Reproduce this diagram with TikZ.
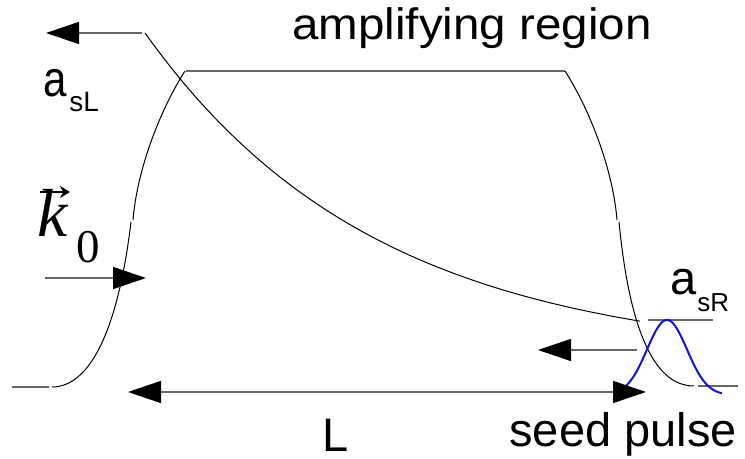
\documentclass[tikz,border=0pt]{standalone}
\usepackage{fontspec}
\setmainfont{Liberation Sans}
\newfontfamily\serifface{Liberation Serif}
\newfontfamily\titleface{Liberation Sans}[FakeStretch=1.08]
\usetikzlibrary{arrows.meta}
\definecolor{linegray}{HTML}{666666}
\definecolor{pulseblue}{HTML}{0A14E6}
\newcommand{\labeltext}{\fontsize{23.5}{26}\selectfont}
\newcommand{\subtext}[1]{\fontsize{#1}{#1}\selectfont}

\begin{document}
\begin{tikzpicture}[
  x=0.5pt, y=-0.5pt,
  lbl/.style={inner sep=0pt, anchor=base west},
  curve/.style={line width=0.5pt, draw=black},
  level/.style={line width=0.75pt, draw=linegray},
  beam/.style={line width=0.75pt, draw=linegray,
    -{Triangle[length=16.5pt, width=11pt, color=black]}},
  span/.style={beam,
    {Triangle[length=16.5pt, width=11pt, color=black]}-{Triangle[length=16.5pt, width=11pt, color=black]}},
]
\useasboundingbox (0,0) rectangle (745,459);

% ---- gain profile of the amplifying region ------------------------------
\draw[level] (12,387) -- (49,387);
\draw[curve] (52,387) .. controls (90,387) and (118,330) .. (131,222);
\draw[curve] (133,220) .. controls (137,170) and (160,110) .. (185,71);
\draw[level] (186,71) -- (565,71);
\draw[curve] (565,71) .. controls (590,110) and (613,170) .. (617,220);
\draw[curve] (619,222) .. controls (630,335) and (656,386) .. (694,386);
\draw[level] (698,386) -- (738,386);

% ---- amplitude of the backward wave -------------------------------------
\draw[curve] plot[domain=145:640, samples=80]
  (\x, {360-327*exp(-0.0043*(\x-145))});
\draw[level] (648,320) -- (713,320);

% ---- seed pulse ---------------------------------------------------------
\draw[line width=1pt, pulseblue] plot[domain=613:722, samples=80]
  (\x, {395-75*exp(-((\x-667)/20)^2/2)});

% ---- beams --------------------------------------------------------------
\coordinate (outL) at (46,33);
\coordinate (outLs) at (142,33);
\coordinate (inKs) at (45,278);
\coordinate (inK) at (146,278);
\coordinate (seedA) at (637,350);
\coordinate (seedB) at (538,350);
\coordinate (lenA) at (128,392);
\coordinate (lenB) at (646,392);
\foreach \a/\b in {outLs/outL, inKs/inK, seedA/seedB}
  \draw[beam] (\a) -- (\b);
\draw[span] (lenA) -- (lenB);

% ---- labels -------------------------------------------------------------
\node[lbl] (title) at (292,40) {\fontsize{22}{24}\selectfont\titleface amplifying region};
\node[lbl] (seed) at (509,447) {\labeltext seed pulse};
\node[lbl] (len) at (322,452) {\labeltext L};
\node[lbl] (asl) at (43,97) {\fontsize{21}{24}\selectfont\scalebox{1}[1.2]{a}};
\node[lbl] (aslsub) at (69,112) {\subtext{14}sL};
\node[lbl] (asr) at (670,295) {\labeltext a};
\node[lbl] (asrsub) at (697,312) {\subtext{13}sR};
\node[lbl] (kvec) at (37,237) {\fontsize{34}{36}\selectfont\serifface\itshape k};
\node[lbl] (kzero) at (76,263) {\labeltext\serifface 0};
\coordinate (kA) at (40,192);
\coordinate (kB) at (70,192);
\draw[line width=1.2pt, -{Stealth[length=5pt, width=6pt]}] (kA) -- (kB);

\end{tikzpicture}
\end{document}
